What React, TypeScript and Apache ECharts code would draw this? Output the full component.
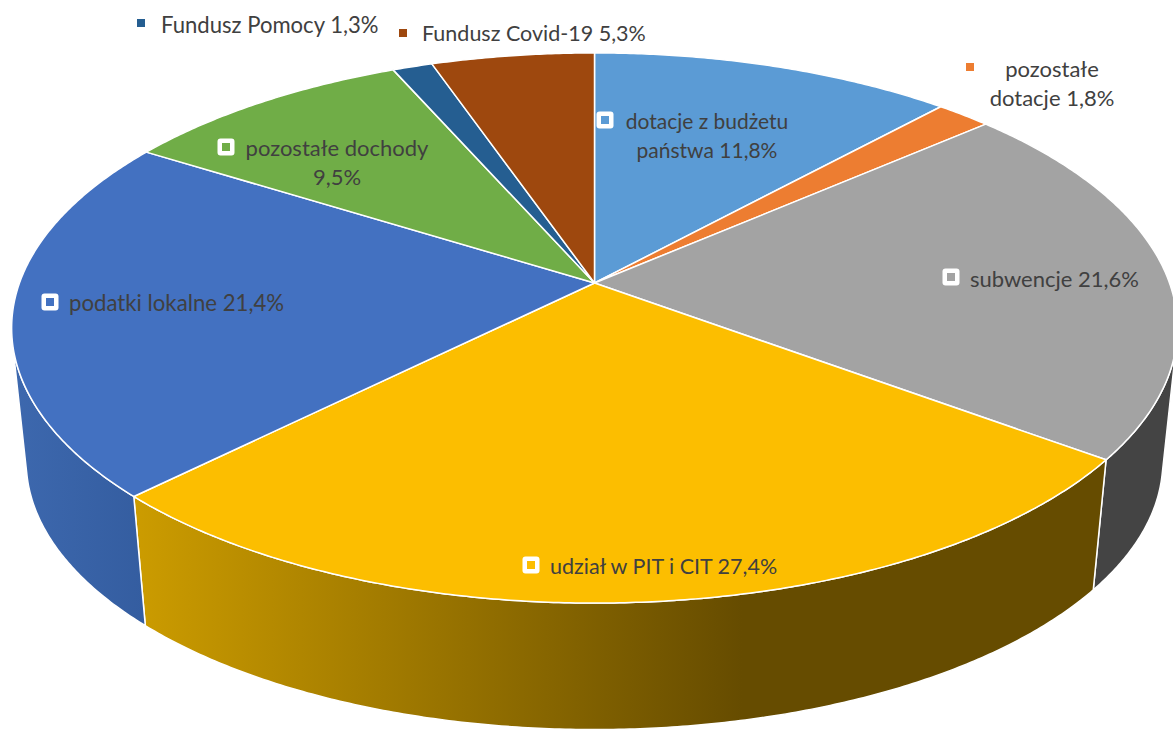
import React, { useEffect, useRef } from "react";
import * as echarts from "echarts";

const categories = [
  "dotacje z budżetu państwa",
  "pozostałe dotacje",
  "subwencje",
  "udział w PIT i CIT",
  "podatki lokalne",
  "pozostałe dochody",
  "Fundusz Pomocy",
  "Fundusz Covid-19",
];
const shares = [11.8, 1.8, 21.6, 27.4, 21.4, 9.5, 1.3, 5.3];
const topColors = ["#5B9BD5", "#ED7D31", "#A3A3A3", "#FCBE00", "#4371C1", "#70AD47", "#255E91", "#9E480E"];

// layout of the perspective disc
const CX = 594.5, CY = 283, RX = 575, RY = 267.7, PERSP = 0.1636;
const SCALE_BOTTOM = 0.975, CY_BOTTOM = 417.5;
const TEXT = "#404040";

const labelLayout: Record<number, { mx: number; my: number; tx: number; ty: number; align: string; framed: boolean; brk: number; size: number }> = {
  0: { mx: 605, my: 120, tx: 707, ty: 134.5, align: "center", framed: true, brk: 3, size: 21 },
  1: { mx: 970, my: 67, tx: 1052, ty: 82.5, align: "center", framed: false, brk: 1, size: 22 },
  2: { mx: 951, my: 277, tx: 970, ty: 278.5, align: "left", framed: true, brk: 0, size: 22 },
  3: { mx: 531, my: 565, tx: 550, ty: 566, align: "left", framed: true, brk: 0, size: 21.5 },
  4: { mx: 50, my: 302, tx: 69, ty: 302.5, align: "left", framed: true, brk: 0, size: 22.2 },
  5: { mx: 226, my: 147, tx: 337, ty: 162, align: "center", framed: true, brk: 2, size: 22 },
  6: { mx: 141, my: 23, tx: 161, ty: 24, align: "left", framed: false, brk: 0, size: 22.1 },
  7: { mx: 403, my: 33, tx: 422, ty: 33, align: "left", framed: false, brk: 0, size: 21.5 },
};

const total = shares.reduce((a, b) => a + b, 0);
const starts: number[] = [];
shares.reduce((acc, v, i) => {
  starts[i] = acc;
  return acc + v;
}, 0);

const toAngle = (share: number) => (share / total) * Math.PI * 2;

function topPoint(t: number): [number, number] {
  const x = Math.sin(t);
  const y = -Math.cos(t);
  const w = 1 - PERSP * y;
  return [CX + (RX * x) / w, CY + (RY * y) / w];
}
function bottomPoint(t: number): [number, number] {
  const [x, y] = topPoint(t);
  return [CX + SCALE_BOTTOM * (x - CX), CY_BOTTOM + SCALE_BOTTOM * (y - CY)];
}
function wallFaces(t: number): boolean {
  const d = 0.001;
  const a = topPoint(t - d);
  const b = topPoint(t + d);
  const p = topPoint(t);
  const q = bottomPoint(t);
  return (b[0] - a[0]) * (q[1] - p[1]) - (b[1] - a[1]) * (q[0] - p[0]) < 0;
}
function samples(a: number, b: number): number[] {
  const n = Math.max(2, Math.ceil((b - a) / 0.008));
  const out: number[] = [];
  for (let i = 0; i <= n; i++) out.push(a + ((b - a) * i) / n);
  return out;
}

function wallFill(i: number): any {
  if (i === 3) {
    return new echarts.graphic.LinearGradient(
      134, 0, 1100, 0,
      [
        { offset: 0, color: "#CC9C00" },
        { offset: 0.63, color: "#664C00" },
        { offset: 1, color: "#664C00" },
      ],
      true
    );
  }
  if (i === 4) {
    return new echarts.graphic.LinearGradient(
      13, 0, 145, 0,
      [
        { offset: 0, color: "#3D68AE" },
        { offset: 1, color: "#345DA0" },
      ],
      true
    );
  }
  if (i === 2) return "#444444";
  return topColors[i];
}

const wallItem = (params: any) => {
  const i = params.dataIndex;
  const a = toAngle(starts[i]);
  const b = a + toAngle(shares[i]);
  const vis = samples(a, b).filter(wallFaces);
  if (vis.length < 2) return { type: "group", children: [] };
  const pts = [...vis.map(topPoint), ...vis.slice().reverse().map(bottomPoint)];
  return {
    type: "polygon",
    shape: { points: pts },
    style: { fill: wallFill(i), stroke: "#FFFFFF", lineWidth: 1.5, lineJoin: "round" },
  };
};

const topItem = (params: any) => {
  const i = params.dataIndex;
  const a = toAngle(starts[i]);
  const b = a + toAngle(shares[i]);
  const pts = [[CX, CY], ...samples(a, b).map(topPoint)];
  return {
    type: "polygon",
    shape: { points: pts },
    style: { fill: topColors[i], stroke: "#FFFFFF", lineWidth: 1.5, lineJoin: "round" },
  };
};

function labelText(i: number): string {
  const words = categories[i].split(" ");
  const val = shares[i].toFixed(1).replace(".", ",") + "%";
  const all = [...words, val];
  const brk = labelLayout[i].brk;
  if (!brk) return all.join(" ");
  return all.slice(0, brk).join(" ") + "\n" + all.slice(brk).join(" ");
}

const labelItem = (params: any) => {
  const i = params.dataIndex;
  const l = labelLayout[i];
  const children: any[] = [];
  if (l.framed) {
    children.push({
      type: "rect",
      shape: { x: l.mx - 8.5, y: l.my - 8.5, width: 17, height: 17, r: 3 },
      style: { fill: "#FFFFFF" },
    });
  }
  children.push({
    type: "rect",
    shape: { x: l.mx - 4, y: l.my - 4, width: 8, height: 8 },
    style: { fill: topColors[i] },
  });
  children.push({
    type: "text",
    x: l.tx,
    y: l.ty,
    style: {
      text: labelText(i),
      font: `${l.size}px Lato, sans-serif`,
      fill: TEXT,
      align: l.align,
      verticalAlign: "middle",
      lineHeight: 29,
    },
  });
  return { type: "group", children };
};

export default function App() {
  const ref = useRef<HTMLDivElement>(null);
  useEffect(() => {
    document.body.style.margin = "0";
    const chart = echarts.init(ref.current!, null, { renderer: "svg" });
    const data = shares.map((v, i) => ({ name: categories[i], value: v }));
    chart.setOption({
      animation: false,
      backgroundColor: "#FFFFFF",
      series: [
        { type: "custom", coordinateSystem: "none", silent: true, z: 1, data, renderItem: wallItem },
        { type: "custom", coordinateSystem: "none", silent: true, z: 2, data, renderItem: topItem },
        { type: "custom", coordinateSystem: "none", silent: true, z: 3, data, renderItem: labelItem },
      ],
    });
    return () => chart.dispose();
  }, []);
  return <div ref={ref} style={{ width: 1173, height: 731, overflow: "hidden" }} />;
}
